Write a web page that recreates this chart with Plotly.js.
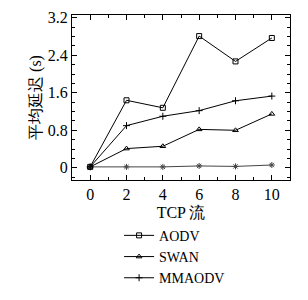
<!DOCTYPE html>
<html><head><meta charset="utf-8">
<script src="https://cdn.plot.ly/plotly-3.0.1.min.js"></script>
<style>body{margin:0;padding:0;background:#fff}#c{width:308px;height:300px}</style>
</head><body><div id="c"></div>
<script>
var tcpFlows = [0, 2, 4, 6, 8, 10];
var aodv = [0.02, 1.44, 1.28, 2.81, 2.27, 2.77];
var swan = [0.02, 0.41, 0.46, 0.82, 0.80, 1.15];
var mmaodv = [0.02, 0.90, 1.10, 1.22, 1.43, 1.53];
var other = [0.02, 0.02, 0.02, 0.04, 0.03, 0.06];
var xTicks = [0, 2, 4, 6, 8, 10];
var yTicks = [0, 0.8, 1.6, 2.4, 3.2];
var yTickText = ['0', '0.8', '1.6', '2.4', '3.2'];

var serif = 'Liberation Serif';
var f16 = {family: serif, size: 16, color: '#000'};
function tr(name, y, sym, col, show) {
  return {x: tcpFlows, y: y, name: name, type: 'scatter', mode: 'lines+markers',
    showlegend: show,
    line: {color: col, width: 1},
    marker: {symbol: sym, size: 5, color: col, line: {color: col, width: 1}}};
}
var data = [
  tr('other', other, 'asterisk-open', '#444', false),
  tr('AODV', aodv, 'square-open', '#000', true),
  tr('SWAN', swan, 'triangle-up-open', '#000', true),
  tr('MMAODV', mmaodv, 'cross-thin-open', '#000', true)
];
var layout = {
  template: {data: {}, layout: {}},
  width: 308, height: 300,
  margin: {l: 72, r: 18, t: 15, b: 120, autoexpand: false},
  paper_bgcolor: '#fff', plot_bgcolor: '#fff',
  font: f16,
  xaxis: {range: [-1, 11], tickvals: xTicks, ticks: 'inside', ticklen: 5, tickcolor: '#000',
    showline: true, mirror: 'ticks', linecolor: '#000', linewidth: 1, showgrid: false, zeroline: false,
    minor: {dtick: 1, ticks: 'inside', ticklen: 3, tickcolor: '#000'},
    tickfont: f16,
    title: {text: 'TCP 流', font: f16, standoff: 4}},
  yaxis: {range: [-0.26, 3.26], tickvals: yTicks, ticktext: yTickText, ticks: 'inside', ticklen: 5, tickcolor: '#000',
    showline: true, mirror: 'ticks', linecolor: '#000', linewidth: 1, showgrid: false, zeroline: false,
    minor: {dtick: 0.2, ticks: 'inside', ticklen: 3, tickcolor: '#000'},
    tickfont: f16,
    title: {text: '平均延迟 (s)', font: f16, standoff: 2}},
  legend: {x: 0.216, y: -0.241, xanchor: 'left', yanchor: 'top', bgcolor: 'rgba(0,0,0,0)',
    font: {family: serif, size: 14, color: '#000'}, tracegroupgap: 0, itemwidth: 30},
  showlegend: true
};
Plotly.newPlot('c', data, layout, {staticPlot: true, displayModeBar: false});
</script></body></html>
